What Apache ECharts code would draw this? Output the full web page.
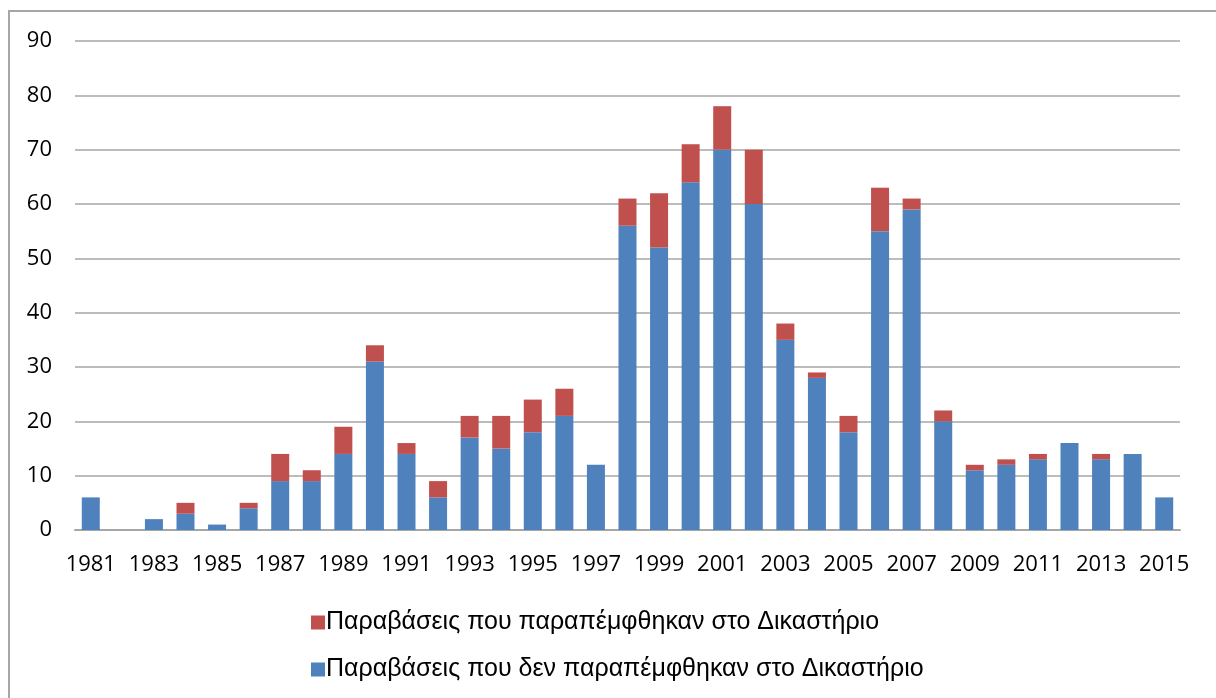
<!DOCTYPE html>
<html>
<head>
<meta charset="utf-8">
<script src="https://cdn.jsdelivr.net/npm/echarts@6/dist/echarts.min.js"></script>
<style>
  html, body { margin: 0; padding: 0; background: #fff; }
  #frame { position: absolute; left: 8px; top: 10px; width: 1210px; height: 700px; border: 2px solid #a6a6a6; box-sizing: border-box; }
  #chart { position: absolute; left: 0; top: 0; width: 1216px; height: 698px; }
</style>
</head>
<body>
<div id="frame"></div>
<div id="chart"></div>
<script>
// years
var years = [];
for (var y = 1981; y <= 2015; y++) years.push(String(y));

// not referred to court (blue)
var notReferred = [6, 0, 2, 3, 1, 4, 9, 9, 14, 31, 14, 6, 17, 15, 18, 21, 12, 56, 52, 64,
  70, 60, 35, 28, 18, 55, 59, 20, 11, 12, 13, 16, 13, 14, 6];
// referred to court (red)
var referred = [0, 0, 0, 2, 0, 1, 5, 2, 5, 3, 2, 3, 4, 6, 6, 5, 0, 5, 10, 7,
  8, 10, 3, 1, 3, 8, 2, 2, 1, 1, 1, 0, 1, 0, 0];

var nameRed = "Παραβάσεις που παραπέμφθηκαν στο Δικαστήριο";
var nameBlue = "Παραβάσεις που δεν παραπέμφθηκαν στο Δικαστήριο";

var chart = echarts.init(document.getElementById("chart"));
chart.setOption({
  animation: false,
  textStyle: { fontFamily: "Open Sans", color: "#000" },
  grid: { left: 75, right: 36, top: 41, bottom: 168, containLabel: false },
  legend: {
    orient: "vertical",
    left: 306,
    top: 605,
    itemGap: 22,
    itemWidth: 14,
    itemHeight: 14,
    icon: "rect",
    textStyle: { fontSize: 25, color: "#000", fontFamily: "Liberation Sans", padding: [0, 0, 0, -4] },
    data: [nameRed, nameBlue],
  },
  xAxis: {
    type: "category",
    data: years,
    axisLine: { lineStyle: { color: "#a6a6a6", width: 2 } },
    axisTick: { show: false },
    axisLabel: { interval: 1, fontSize: 22, color: "#000", margin: 24 },
  },
  yAxis: {
    type: "value",
    min: 0,
    max: 90,
    interval: 10,
    axisLine: { show: false },
    axisTick: { show: false },
    axisLabel: { fontSize: 22, color: "#000", margin: 23, align: "right" },
    splitLine: { lineStyle: { color: "#a6a6a6", width: 1.5 } },
  },
  series: [
    {
      name: nameBlue,
      type: "bar",
      stack: "total",
      data: notReferred,
      barWidth: 18,
      itemStyle: { color: "#4f81bd" },
    },
    {
      name: nameRed,
      type: "bar",
      stack: "total",
      data: referred,
      barWidth: 18,
      itemStyle: { color: "#c0504d" },
    },
  ],
});
</script>
</body>
</html>
